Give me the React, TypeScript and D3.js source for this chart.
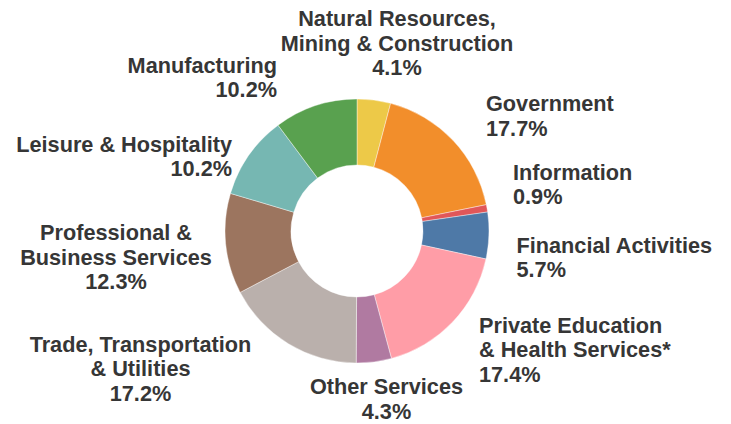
import React from "react";
import * as d3 from "d3";

const categories = [
  "Natural Resources, Mining & Construction",
  "Government",
  "Information",
  "Financial Activities",
  "Private Education & Health Services*",
  "Other Services",
  "Trade, Transportation & Utilities",
  "Professional & Business Services",
  "Leisure & Hospitality",
  "Manufacturing",
];
const shares = [4.1, 17.7, 0.9, 5.7, 17.4, 4.3, 17.2, 12.3, 10.2, 10.2];
const labelLines = [
  ["Natural Resources,", "Mining & Construction"],
  ["Government"],
  ["Information"],
  ["Financial Activities"],
  ["Private Education", "& Health Services*"],
  ["Other Services"],
  ["Trade, Transportation", "& Utilities"],
  ["Professional &", "Business Services"],
  ["Leisure & Hospitality"],
  ["Manufacturing"],
];
const colors = [
  "#EDC948", "#F28E2B", "#E15759", "#4E79A7", "#FF9DA7",
  "#B07AA1", "#BAB0AC", "#9C755F", "#76B7B2", "#59A14F",
];

// label layout: [x, first baseline y, anchor]
const labelLayout: [number, number, string][] = [
  [397, 26, "middle"],
  [486, 111, "start"],
  [513, 179.5, "start"],
  [516.5, 252.5, "start"],
  [479, 332.5, "start"],
  [386.5, 394, "middle"],
  [140.5, 351.7, "middle"],
  [116, 240, "middle"],
  [232, 151.5, "end"],
  [277, 72.5, "end"],
];

const W = 731, H = 424;
const CX = 357, CY = 231, R = 132, RI = 66;
const LH = 24.7;

export default function App() {
  const pie = d3.pie<number>().sort(null).value((d) => d);
  const arcs = pie(shares);
  const arc = d3.arc<d3.PieArcDatum<number>>().innerRadius(RI).outerRadius(R);
  return (
    <svg width={W} height={H} style={{ position: "absolute", left: 0, top: 0 }}
      fontFamily="'Liberation Sans', Arial, sans-serif">
      <rect width={W} height={H} fill="#fff" />
      <g transform={`translate(${CX},${CY})`}>
        {arcs.map((a, i) => (
          <path key={categories[i]} d={arc(a) || ""} fill={colors[i]} stroke="#fff" strokeWidth={0.4} />
        ))}
      </g>
      {labelLines.map((lines, i) => {
        const [x, y, anchor] = labelLayout[i];
        const all = [...lines, `${shares[i].toFixed(1)}%`];
        return (
          <text key={categories[i]} x={x} y={y} textAnchor={anchor as any}
            fontSize={21.7} fontWeight="bold" fill="#363636">
            {all.map((t, j) => (
              <tspan key={j} x={x} y={y + j * LH}>{t}</tspan>
            ))}
          </text>
        );
      })}
    </svg>
  );
}
